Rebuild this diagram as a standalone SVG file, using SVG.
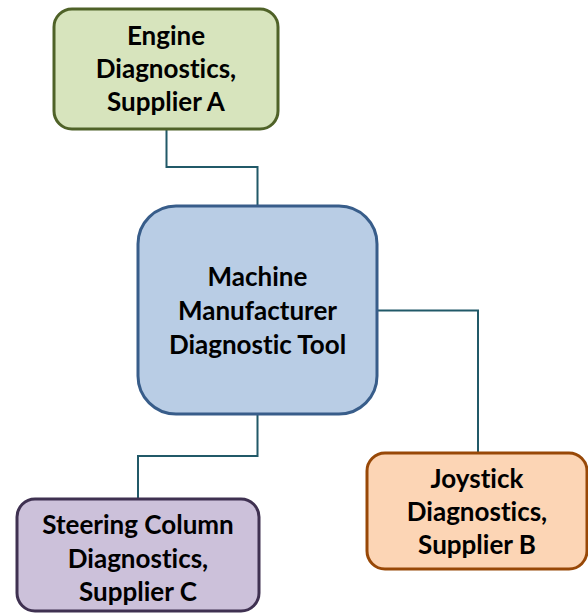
<svg xmlns="http://www.w3.org/2000/svg" width="588" height="614" viewBox="0 0 588 614">
<style>
.box{stroke-width:3}
.t{font-family:"Lato","Liberation Sans",sans-serif;font-weight:bold;font-size:26px;text-anchor:middle;fill:#000;font-variant-ligatures:none}
.c{fill:none;stroke:#215968;stroke-width:2}
</style>
<rect width="588" height="614" fill="#fff"/>
<g id="connectors">
<polyline class="c" points="166.5,129 166.5,167 257.5,167 257.5,207"/>
<polyline class="c" points="377,310.5 478,310.5 478,453"/>
<polyline class="c" points="257.5,414 257.5,456 138,456 138,499"/>
</g>
<g id="engine">
<rect class="box" x="54" y="9" width="224" height="120" rx="18" fill="#d7e4bd" stroke="#4f6228"/>
<text class="t" x="166" y="45">Engine</text>
<text class="t" x="166" y="78">Diagnostics,</text>
<text class="t" x="166" y="111">Supplier A</text>
</g>
<g id="tool">
<rect class="box" x="138" y="206" width="239" height="208" rx="38" fill="#b9cde5" stroke="#385d8a"/>
<text class="t" x="257.5" y="286">Machine</text>
<text class="t" x="257.5" y="320">Manufacturer</text>
<text class="t" x="257.5" y="354">Diagnostic Tool</text>
</g>
<g id="joystick">
<rect class="box" x="367" y="453" width="220" height="116" rx="18" fill="#fcd5b5" stroke="#984807"/>
<text class="t" x="477" y="488">Joystick</text>
<text class="t" x="477" y="521">Diagnostics,</text>
<text class="t" x="477" y="554">Supplier B</text>
</g>
<g id="steering">
<rect class="box" x="17" y="499" width="242" height="112" rx="18" fill="#ccc1da" stroke="#3f3151"/>
<text class="t" x="138" y="534">Steering Column</text>
<text class="t" x="138" y="568">Diagnostics,</text>
<text class="t" x="138" y="601">Supplier C</text>
</g>
</svg>
